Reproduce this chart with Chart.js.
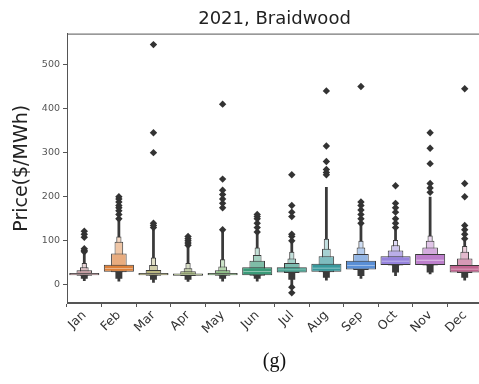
<!DOCTYPE html>
<html>
<head>
<meta charset="utf-8">
<script src="https://cdn.jsdelivr.net/npm/chart.js@4.4.1/dist/chart.umd.min.js"></script>
<style>
  html, body { margin: 0; padding: 0; background: #fff; overflow: hidden; }
  #wrap { width: 486px; height: 384px; }
</style>
</head>
<body>
<div id="wrap"><canvas id="chart"></canvas></div>
<script>
// months on the x axis
const months = ['Jan', 'Feb', 'Mar', 'Apr', 'May', 'Jun', 'Jul', 'Aug', 'Sep', 'Oct', 'Nov', 'Dec'];
const yTicks = [0, 100, 200, 300, 400, 500];

// letter-value boxes, widest (IQR) first, [low, high] in $/MWh
const level1 = [[22,27],[30,46],[22,27],[21,26],[22,27],[22,40],[28,40],[30,48],[35,55],[45,65],[45,70],[28,45]];
const level2 = [[21,33],[29,71],[21,34],[20,31],[21,33],[21,55],[27,50],[29,65],[34,70],[44,78],[44,85],[27,60]];
const level3 = [[21,40],[29,98],[21,45],[20,38],[21,42],[21,68],[27,60],[29,82],[34,85],[44,90],[44,100],[27,75]];
const level4 = [[21,50],[29,110],[21,62],[20,50],[21,58],[21,85],[27,75],[29,105],[34,100],[44,102],[44,112],[27,88]];
const medians = [24.5, 37, 24.5, 23.5, 24.5, 30, 34, 38, 44, 54, 56, 36];
// dark wedge under each box (densely packed low points)
const lowerSpike = [[14,22],[14,30],[12,22],[12,21],[14,22],[14,22],[12,28],[16,30],[20,35],[28,45],[28,45],[16,28]];
// thin tail made of densely packed points
const tails = [[9,80],[8,150],[5,130],[7,90],[8,122],[8,120],[-5,110],[10,222],[14,140],[20,125],[24,200],[10,100]];

// outliers per month
const outliers = [
  [75, 78, 82, 108, 115, 122],
  [150, 160, 168, 175, 180, 188, 195, 200],
  [130, 135, 140, 300, 345, 545],
  [90, 95, 100, 105, 110],
  [125, 175, 185, 195, 205, 215, 240, 410],
  [120, 130, 140, 150, 155, 160],
  [-18, -5, 100, 110, 115, 155, 165, 180, 250],
  [250, 255, 262, 280, 315, 440],
  [140, 150, 160, 170, 180, 188, 450],
  [130, 140, 150, 165, 175, 185, 225],
  [210, 220, 230, 275, 310, 345],
  [105, 115, 125, 135, 200, 230, 445]
];

const monthColors = ['#a86a72', '#dc803a', '#96903e', '#78923e', '#56a048', '#3a9a78',
                     '#379886', '#38989c', '#5a8fd6', '#9582dc', '#bd7fcc', '#c0648f'];

function lighten(hex, t) {
  const n = parseInt(hex.slice(1), 16);
  const r = (n >> 16) & 255, g = (n >> 8) & 255, b = n & 255;
  const m = v => Math.round(v + (255 - v) * t);
  return `rgb(${m(r)},${m(g)},${m(b)})`;
}

const edge = '#3a3a3a';

function boxSet(data, pct, shade, order, border) {
  return {
    type: 'bar',
    data: data,
    backgroundColor: monthColors.map(c => shade < 0 ? edge : lighten(c, shade)),
    borderColor: edge,
    borderWidth: border === undefined ? 1 : border,
    borderSkipped: false,
    grouped: false,
    barPercentage: pct,
    categoryPercentage: 1,
    order: order
  };
}

const outlierPoints = [];
outliers.forEach((vals, i) => vals.forEach(v => outlierPoints.push({ x: months[i], y: v })));

// box round the plot area
const frame = {
  id: 'frame',
  afterDraw(chart) {
    const { ctx, chartArea: a } = chart;
    ctx.save();
    ctx.strokeStyle = '#555';
    ctx.lineWidth = 1;
    ctx.strokeRect(a.left + 0.5, a.top + 0.5, a.right - a.left - 1, a.bottom - a.top - 1);
    ctx.restore();
  }
};

const medianSet = {
  type: 'bar',
  data: medians.map(m => [m - 0.9, m + 0.9]),
  backgroundColor: monthColors.map(c => lighten(c, 0.55)),
  borderWidth: 0,
  grouped: false,
  barPercentage: 0.8,
  categoryPercentage: 1,
  order: 0.5
};

new Chart(document.getElementById('chart'), {
  type: 'bar',
  data: {
    labels: months,
    datasets: [
      boxSet(tails, 0.08, -1, 6, 0),
      boxSet(level4, 0.15, 0.7, 5),
      boxSet(level3, 0.25, 0.55, 4),
      boxSet(level2, 0.45, 0.35, 3),
      boxSet(lowerSpike, 0.2, -1, 2, 0),
      boxSet(level1, 0.87, 0, 1),
      medianSet,
      {
        type: 'line',
        data: outlierPoints,
        showLine: false,
        pointStyle: 'rectRot',
        pointRadius: 3.7,
        pointBackgroundColor: '#333',
        pointBorderColor: '#333',
        pointBorderWidth: 0,
        order: 0
      }
    ]
  },
  options: {
    responsive: true,
    maintainAspectRatio: false,
    animation: false,
    layout: { padding: 0 },
    plugins: {
      legend: { display: false },
      tooltip: { enabled: false },
      title: {
        display: true,
        fullSize: false,
        text: '2021, Braidwood',
        color: '#222',
        font: { family: 'DejaVu Sans', size: 18, weight: 'normal' },
        padding: { top: 9, bottom: 3 }
      },
      subtitle: {
        display: true,
        fullSize: false,
        position: 'bottom',
        text: '(g)',
        color: '#111',
        font: { family: 'Liberation Serif', size: 20, weight: 'normal' },
        padding: { top: 0, bottom: 10 }
      }
    },
    scales: {
      x: {
        offset: true,
        grid: { drawOnChartArea: false, drawTicks: true, tickLength: 4, color: '#555' },
        border: { color: '#555' },
        ticks: {
          color: '#333',
          font: { family: 'DejaVu Sans', size: 12.5 },
          minRotation: 45,
          maxRotation: 45,
          padding: 1
        },
        afterFit(axis) { axis.height = 47; }
      },
      y: {
        min: -41,
        max: 570,
        grid: { drawOnChartArea: false, drawTicks: true, tickLength: 4, color: '#555' },
        border: { color: '#555' },
        afterBuildTicks(axis) { axis.ticks = yTicks.map(v => ({ value: v })); },
        ticks: {
          color: '#555',
          font: { family: 'DejaVu Sans', size: 9.5 },
          padding: 3
        },
        title: {
          display: true,
          text: 'Price($/MWh)',
          color: '#222',
          font: { family: 'DejaVu Sans', size: 19 },
          padding: { top: 10.5, bottom: 2 }
        },
        afterFit(axis) { axis.width = 67; }
      }
    }
  },
  plugins: [frame]
});
</script>
</body>
</html>
